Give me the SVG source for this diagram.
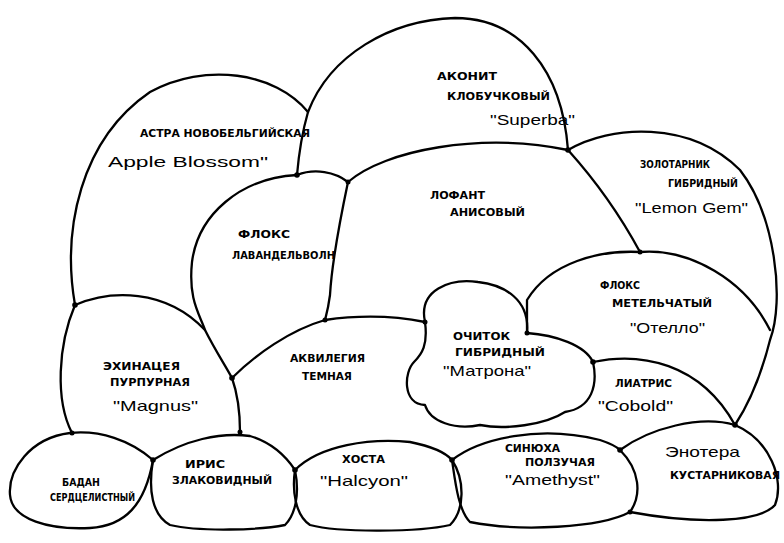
<svg xmlns="http://www.w3.org/2000/svg" width="784" height="543" viewBox="0 0 784 543">
<style>
.b{fill:none;stroke:#000;stroke-width:2.3;stroke-linecap:round;stroke-linejoin:round}
.j{fill:#000}
.c{font-family:"DejaVu Sans","Liberation Sans",sans-serif;font-size:10px;font-weight:bold;fill:#000}
.n{font-family:"Liberation Sans","DejaVu Sans",sans-serif;font-size:15px;fill:#000}
</style>
<rect width="784" height="543" fill="#fff"/>
<g id="aster">
<path class="b" d="M75,305 C62,230 80,140 150,92 C205,62 275,72 308,112"/>
<text class="c" x="140" y="137" textLength="170" lengthAdjust="spacingAndGlyphs">АСТРА НОВОБЕЛЬГИЙСКАЯ</text>
<text class="n" x="108" y="167" font-size="18" textLength="160" lengthAdjust="spacingAndGlyphs">Apple Blossom"</text>
</g>
<g id="aconite">
<path class="b" d="M297,175 Q300,140 308,112 C330,55 390,20 455,18 C520,18 562,70 568,150"/>
<text class="c" x="437" y="80" textLength="60" lengthAdjust="spacingAndGlyphs">АКОНИТ</text>
<text class="c" x="447" y="100" textLength="103" lengthAdjust="spacingAndGlyphs">КЛОБУЧКОВЫЙ</text>
<text class="n" x="490" y="125" textLength="85" lengthAdjust="spacingAndGlyphs">"Superba"</text>
</g>
<g id="goldenrod">
<path class="b" d="M568,150 C610,125 690,120 740,170 C775,215 785,300 770,340 C760,380 748,405 735,425"/>
<text class="c" x="640" y="168" textLength="70" lengthAdjust="spacingAndGlyphs">ЗОЛОТАРНИК</text>
<text class="c" x="668" y="187" textLength="70" lengthAdjust="spacingAndGlyphs">ГИБРИДНЫЙ</text>
<text class="n" x="635" y="213" textLength="113" lengthAdjust="spacingAndGlyphs">"Lemon Gem"</text>
</g>
<g id="lophant">
<path class="b" d="M297,175 C315,168 335,172 348,182 C385,150 480,132 568,150"/>
<path class="b" d="M568,150 C595,180 620,215 640,252"/>
<path class="b" d="M348,182 C340,220 332,260 330,295 C328,310 326,316 325,320"/>
<text class="c" x="430" y="199" textLength="55" lengthAdjust="spacingAndGlyphs">ЛОФАНТ</text>
<text class="c" x="450" y="216" textLength="75" lengthAdjust="spacingAndGlyphs">АНИСОВЫЙ</text>
</g>
<g id="phlox-lav">
<path class="b" d="M297,175 C240,178 198,215 192,262 C188,300 200,315 205,330 C215,350 225,365 232,378"/>
<path class="b" d="M232,378 C255,355 290,330 325,320 C360,315 395,316 425,322"/>
<text class="c" x="238" y="238" textLength="52" lengthAdjust="spacingAndGlyphs">ФЛОКС</text>
<text class="c" x="232" y="259" textLength="103" lengthAdjust="spacingAndGlyphs">ЛАВАНДЕЛЬВОЛН</text>
</g>
<g id="phlox-pan">
<path class="b" d="M640,252 C600,250 550,262 527,300 L527,333"/>
<path class="b" d="M640,252 C690,248 745,280 770,330"/>
<text class="c" x="600" y="289" textLength="40" lengthAdjust="spacingAndGlyphs">ФЛОКС</text>
<text class="c" x="612" y="307" textLength="100" lengthAdjust="spacingAndGlyphs">МЕТЕЛЬЧАТЫЙ</text>
<text class="n" x="630" y="333" textLength="75" lengthAdjust="spacingAndGlyphs">"Отелло"</text>
</g>
<g id="sedum">
<path class="b" d="M425,322 C418,290 450,278 478,282 C505,285 530,300 527,333 C555,335 585,345 593,362 C598,385 592,408 565,412 C545,425 505,430 480,425 C455,430 430,422 425,405 C402,404 404,372 414,362 C422,354 428,345 425,322 Z"/>
<text class="c" x="453" y="340" textLength="57" lengthAdjust="spacingAndGlyphs">ОЧИТОК</text>
<text class="c" x="455" y="356" textLength="90" lengthAdjust="spacingAndGlyphs">ГИБРИДНЫЙ</text>
<text class="n" x="443" y="376" font-size="13" textLength="88" lengthAdjust="spacingAndGlyphs">"Матрона"</text>
</g>
<g id="liatris">
<path class="b" d="M593,362 C640,352 700,362 735,425"/>
<text class="c" x="615" y="387" textLength="57" lengthAdjust="spacingAndGlyphs">ЛИАТРИС</text>
<text class="n" x="598" y="411" font-size="18" textLength="75" lengthAdjust="spacingAndGlyphs">"Cobold"</text>
</g>
<g id="echinacea">
<path class="b" d="M75,305 C110,290 165,288 205,330"/>
<path class="b" d="M75,305 C58,345 55,400 72,433"/>
<path class="b" d="M232,378 C238,395 240,415 240,432"/>
<text class="c" x="103" y="370" textLength="77" lengthAdjust="spacingAndGlyphs">ЭХИНАЦЕЯ</text>
<text class="c" x="110" y="386" textLength="80" lengthAdjust="spacingAndGlyphs">ПУРПУРНАЯ</text>
<text class="n" x="113" y="411" textLength="85" lengthAdjust="spacingAndGlyphs">"Magnus"</text>
</g>
<g id="aquilegia">
<text class="c" x="290" y="362" textLength="75" lengthAdjust="spacingAndGlyphs">АКВИЛЕГИЯ</text>
<text class="c" x="302" y="380" textLength="50" lengthAdjust="spacingAndGlyphs">ТЕМНАЯ</text>
</g>
<g id="badan">
<path class="b" d="M153,460 C130,440 100,430 70,433 C30,438 8,470 10,495 C12,520 50,530 90,528 C125,526 145,505 153,460"/>
<text class="c" x="62" y="486" textLength="38" lengthAdjust="spacingAndGlyphs">БАДАН</text>
<text class="c" x="50" y="501" font-size="8" textLength="85" lengthAdjust="spacingAndGlyphs">СЕРДЦЕЛИСТНЫЙ</text>
</g>
<g id="iris">
<path class="b" d="M153,460 C185,440 220,432 250,436 C270,442 285,455 295,470 C300,495 295,515 285,525 C260,530 200,532 170,525 C152,515 148,490 153,460"/>
<text class="c" x="185" y="468" textLength="40" lengthAdjust="spacingAndGlyphs">ИРИС</text>
<text class="c" x="172" y="484" textLength="100" lengthAdjust="spacingAndGlyphs">ЗЛАКОВИДНЫЙ</text>
</g>
<g id="hosta">
<path class="b" d="M295,470 C320,445 370,438 410,442 C430,446 445,452 452,460 C465,480 465,510 450,525 C420,532 340,533 310,525 C295,515 292,490 295,470"/>
<text class="c" x="342" y="463" textLength="43" lengthAdjust="spacingAndGlyphs">ХОСТА</text>
<text class="n" x="320" y="486" textLength="88" lengthAdjust="spacingAndGlyphs">"Halcyon"</text>
</g>
<g id="sinyukha">
<path class="b" d="M452,460 C480,438 540,425 600,440 C612,444 618,448 620,450 C640,470 642,495 630,512 C600,528 520,532 470,522 C458,510 455,480 452,460"/>
<text class="c" x="505" y="452" textLength="55" lengthAdjust="spacingAndGlyphs">СИНЮХА</text>
<text class="c" x="525" y="466" textLength="70" lengthAdjust="spacingAndGlyphs">ПОЛЗУЧАЯ</text>
<text class="n" x="505" y="485" textLength="95" lengthAdjust="spacingAndGlyphs">"Amethyst"</text>
</g>
<g id="enotera">
<path class="b" d="M620,450 C650,428 700,415 735,425 C770,440 785,480 775,505 C760,522 700,525 630,512"/>
<text class="n" x="665" y="457" textLength="75" lengthAdjust="spacingAndGlyphs">Энотера</text>
<text class="c" x="670" y="479" textLength="110" lengthAdjust="spacingAndGlyphs">КУСТАРНИКОВАЯ</text>
</g>
<g id="junctions">
<circle class="j" cx="297" cy="175" r="2.8"/>
<circle class="j" cx="348" cy="182" r="2.5"/>
<circle class="j" cx="568" cy="150" r="2.8"/>
<circle class="j" cx="640" cy="252" r="2.5"/>
<circle class="j" cx="75" cy="305" r="2.8"/>
<circle class="j" cx="232" cy="378" r="2.8"/>
<circle class="j" cx="325" cy="320" r="2.5"/>
<circle class="j" cx="425" cy="322" r="2.5"/>
<circle class="j" cx="527" cy="333" r="2.5"/>
<circle class="j" cx="593" cy="362" r="2.8"/>
<circle class="j" cx="735" cy="425" r="2.8"/>
<circle class="j" cx="153" cy="460" r="2.8"/>
<circle class="j" cx="295" cy="470" r="2.8"/>
<circle class="j" cx="452" cy="460" r="2.8"/>
<circle class="j" cx="620" cy="450" r="2.8"/>
<circle class="j" cx="630" cy="512" r="2.5"/>
<circle class="j" cx="240" cy="432" r="2.5"/>
<circle class="j" cx="72" cy="433" r="2.5"/>
</g>
</svg>
